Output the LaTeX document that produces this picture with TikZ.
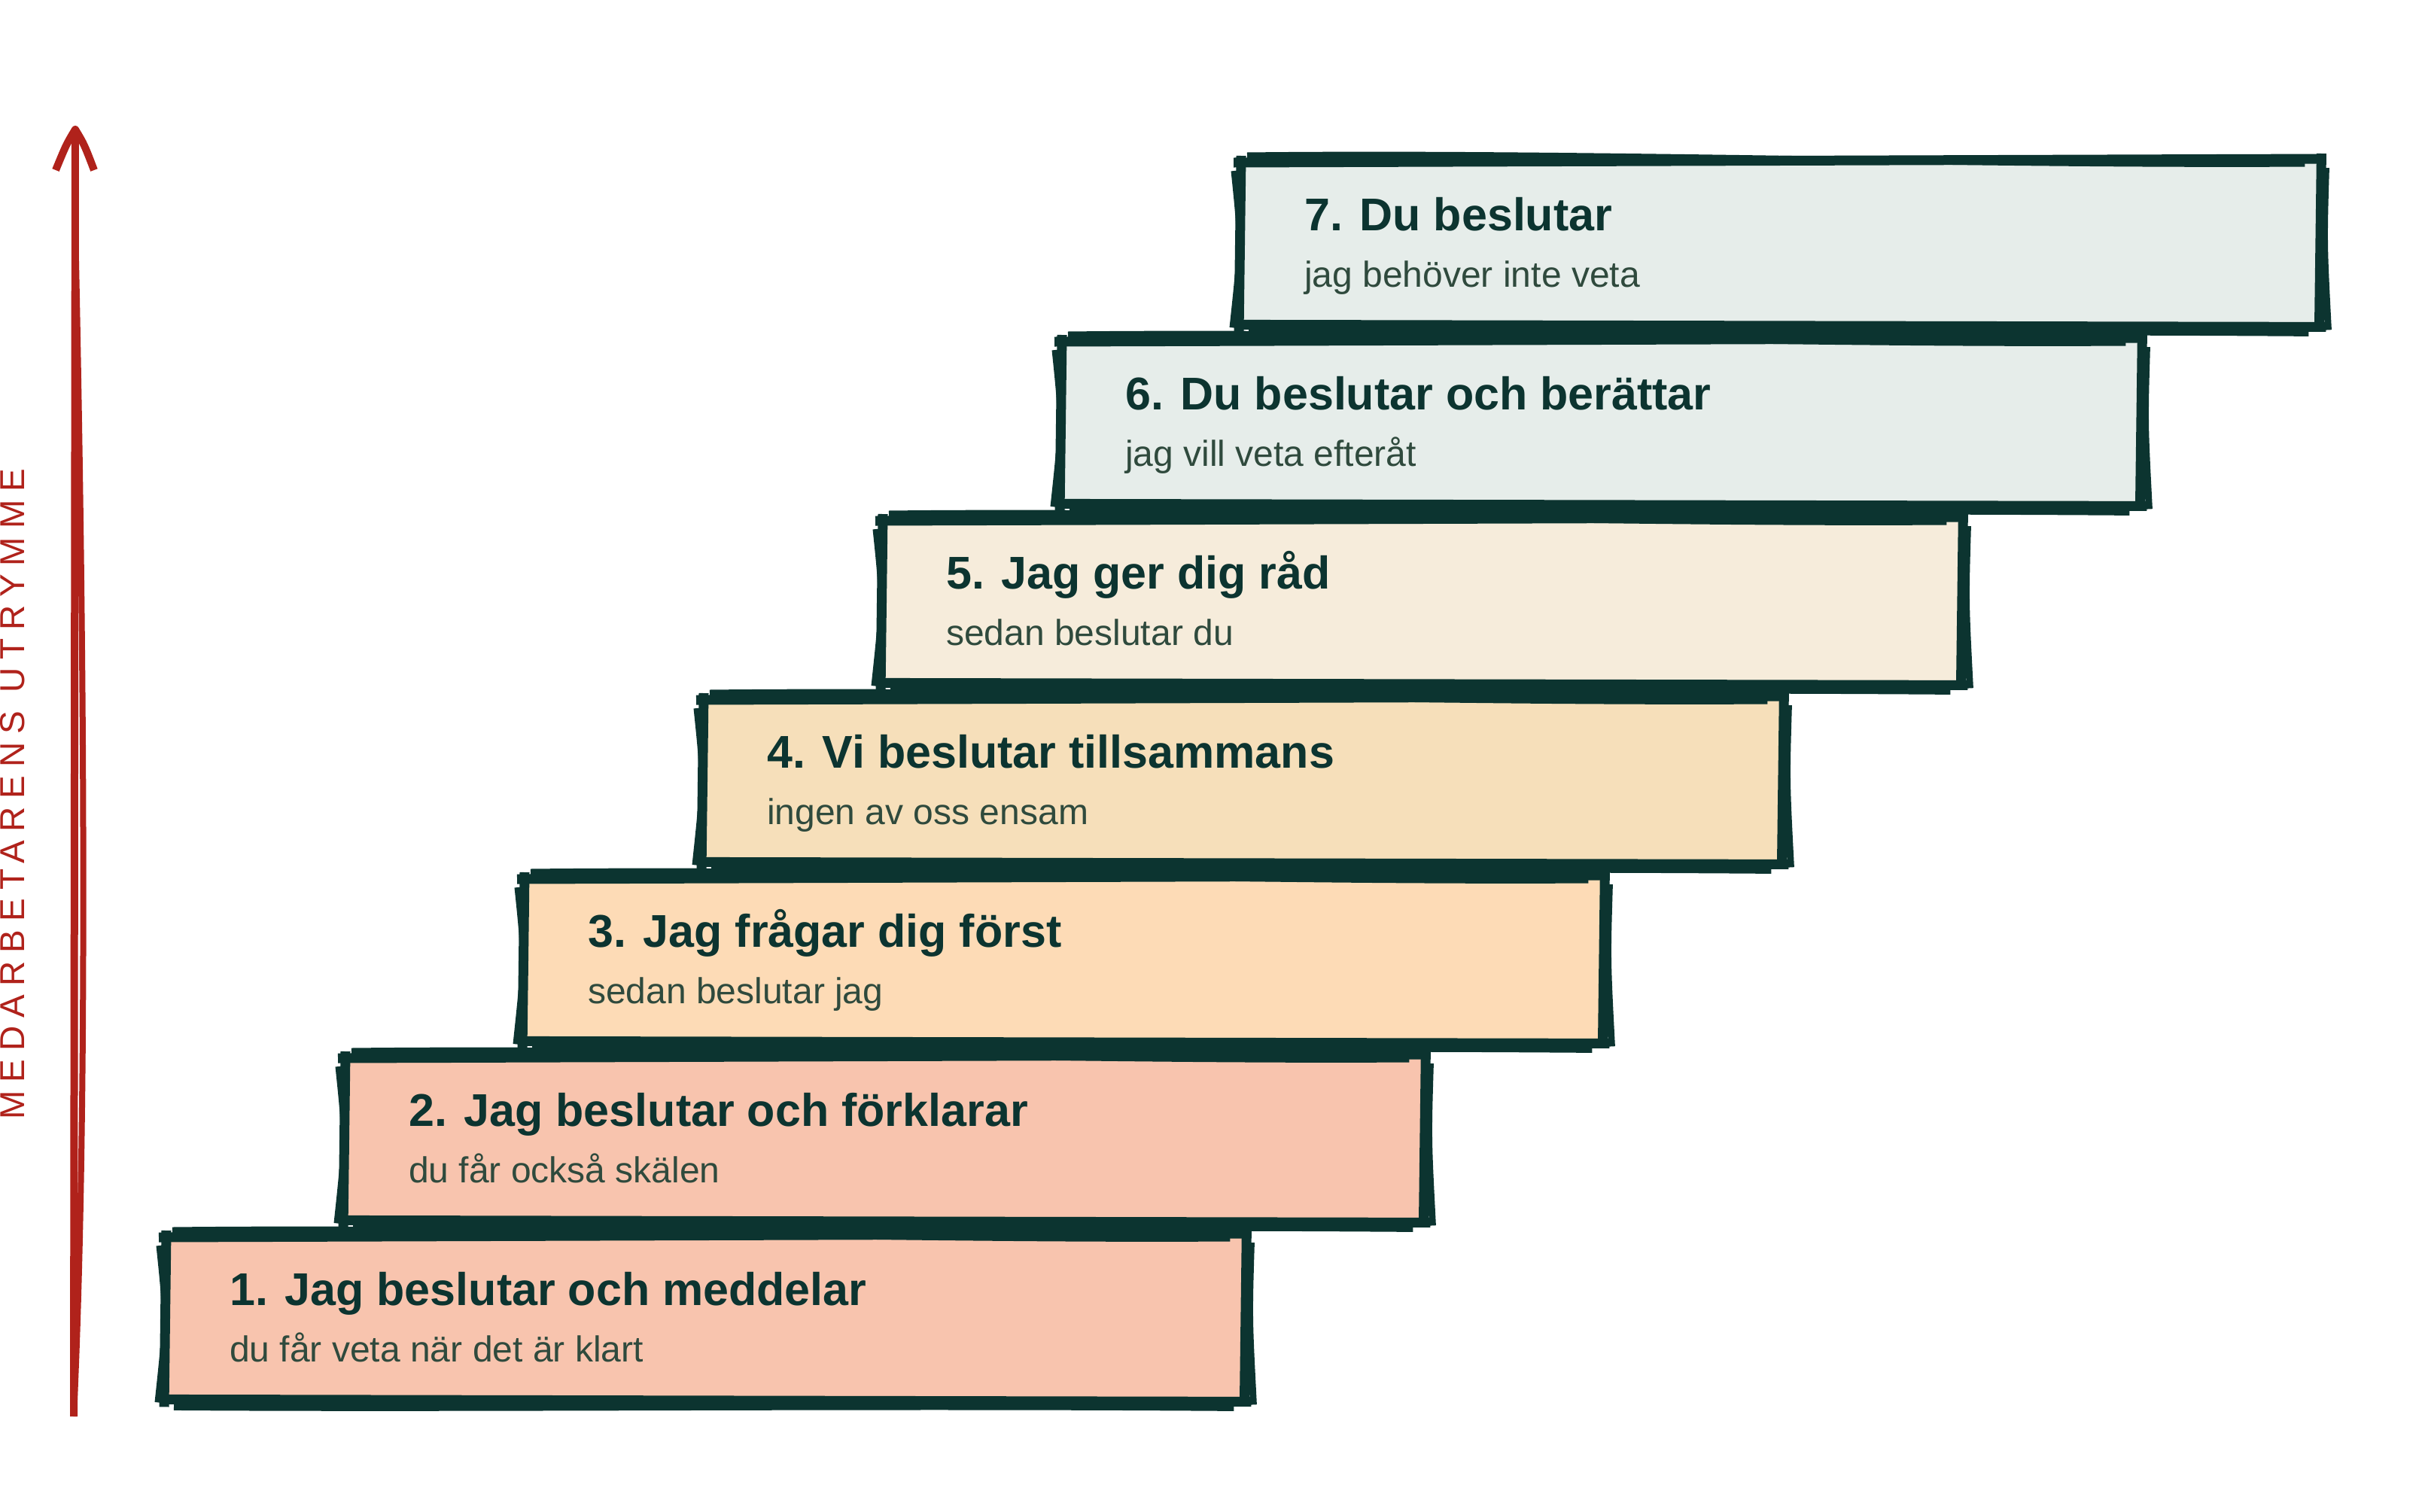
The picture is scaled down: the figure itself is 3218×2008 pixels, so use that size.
\documentclass[tikz,border=0pt]{standalone}
\usepackage{fontspec}
\setmainfont{Liberation Sans}
\newfontfamily\axisfont[LetterSpace=24]{Liberation Sans}
\usetikzlibrary{calc}
\definecolor{ink}{HTML}{0C3430}
\definecolor{subink}{HTML}{2F4A3D}
\definecolor{axisred}{HTML}{B0221B}
\definecolor{pinkfill}{HTML}{F8C4AE}
\definecolor{peachfill}{HTML}{FDDBB6}
\definecolor{sandfill}{HTML}{F6DFBA}
\definecolor{creamfill}{HTML}{F6ECDB}
\definecolor{mistfill}{HTML}{E6EDEA}
\tikzset{
  boxfill/.style={rectangle, inner sep=0pt, minimum width=1435pt, minimum height=220pt, draw=none},
  titletext/.style={inner sep=0pt, text=ink, font=\fontsize{61}{70}\selectfont\bfseries},
  subtext/.style={inner sep=0pt, text=subink, font=\fontsize{48}{56}\selectfont},
  inkline/.style={draw=ink, line width=13pt, line cap=butt, line join=round},
  inkthin/.style={draw=ink, line width=9pt, line cap=butt, line join=round},
  axisline/.style={draw=axisred, line width=10pt, line cap=butt, line join=round},
}
\newcommand\stairbox[6]{%
  \node[boxfill, fill=#4, anchor=north west] (#1) at (#2,#3) {};
  \node[titletext, anchor=base west] (#1t) at ($(#1.north west)+(86,93)$) {#5};
  \node[subtext, anchor=base west] (#1s) at ($(#1.north west)+(86,168)$) {#6};
  % top
  \path[inkline] ($(#1.north west)+(-8,3)$) -- ($(#1.north east)+(6,-2)$);
  \path[inkthin] ($(#1.north west)+(10,-6)$) .. controls ($(#1.north west)+(450,-11)$) and ($(#1.north east)+(-450,7)$) .. ($(#1.north east)+(-20,4)$);
  % right
  \path[inkline] ($(#1.north east)+(2,-9)$) -- ($(#1.south east)+(-1,6)$);
  \path[inkthin] ($(#1.north east)+(8,10)$) .. controls ($(#1.north east)+(5,110)$) .. ($(#1.south east)+(11,5)$);
  % bottom
  \path[inkline] ($(#1.south east)+(8,1)$) -- ($(#1.south west)+(-4,-2)$);
  \path[inkthin] ($(#1.south east)+(-15,9)$) .. controls ($(#1.south east)+(-500,5)$) and ($(#1.south west)+(400,11)$) .. ($(#1.south west)+(12,8)$);
  % left
  \path[inkline] ($(#1.south west)+(-1,8)$) -- ($(#1.north west)+(2,-6)$);
  \path[inkthin] ($(#1.south west)+(-9,2)$) .. controls ($(#1.south west)+(3,-110)$) .. ($(#1.north west)+(-7,14)$);
}
\begin{document}
\begin{tikzpicture}[x=1pt,y=-1pt]
\useasboundingbox[fill=white] (0,0) rectangle (3218,2008);

% axis arrow
\coordinate (abot) at (98,1882);
\coordinate (atop) at (100,172);
\coordinate (amid) at (100,300);
\coordinate (al) at (74,226);
\coordinate (ar) at (125,226);
\draw[axisline] (abot) -- (atop);
\draw[axisline, line width=8pt] (abot) .. controls (116,1500) and (113,900) .. (amid);
\draw[axisline] (al) .. controls (88,192) .. (atop) .. controls (112,192) .. (ar);
\node[rotate=90, inner sep=0pt, text=axisred, font=\axisfont\fontsize{46}{50}\selectfont] (axislabel) at (17,1055) {MEDARBETARENS UTRYMME};

\stairbox{s7}{1647}{213}{mistfill}{7. Du beslutar}{jag behöver inte veta}
\stairbox{s6}{1409}{451}{mistfill}{6. Du beslutar och berättar}{jag vill veta efteråt}
\stairbox{s5}{1171}{689}{creamfill}{5. Jag ger dig råd}{sedan beslutar du}
\stairbox{s4}{933}{927}{sandfill}{4. Vi beslutar tillsammans}{ingen av oss ensam}
\stairbox{s3}{695}{1165}{peachfill}{3. Jag frågar dig först}{sedan beslutar jag}
\stairbox{s2}{457}{1403}{pinkfill}{2. Jag beslutar och förklarar}{du får också skälen}
\stairbox{s1}{219}{1641}{pinkfill}{1. Jag beslutar och meddelar}{du får veta när det är klart}
\end{tikzpicture}
\end{document}
